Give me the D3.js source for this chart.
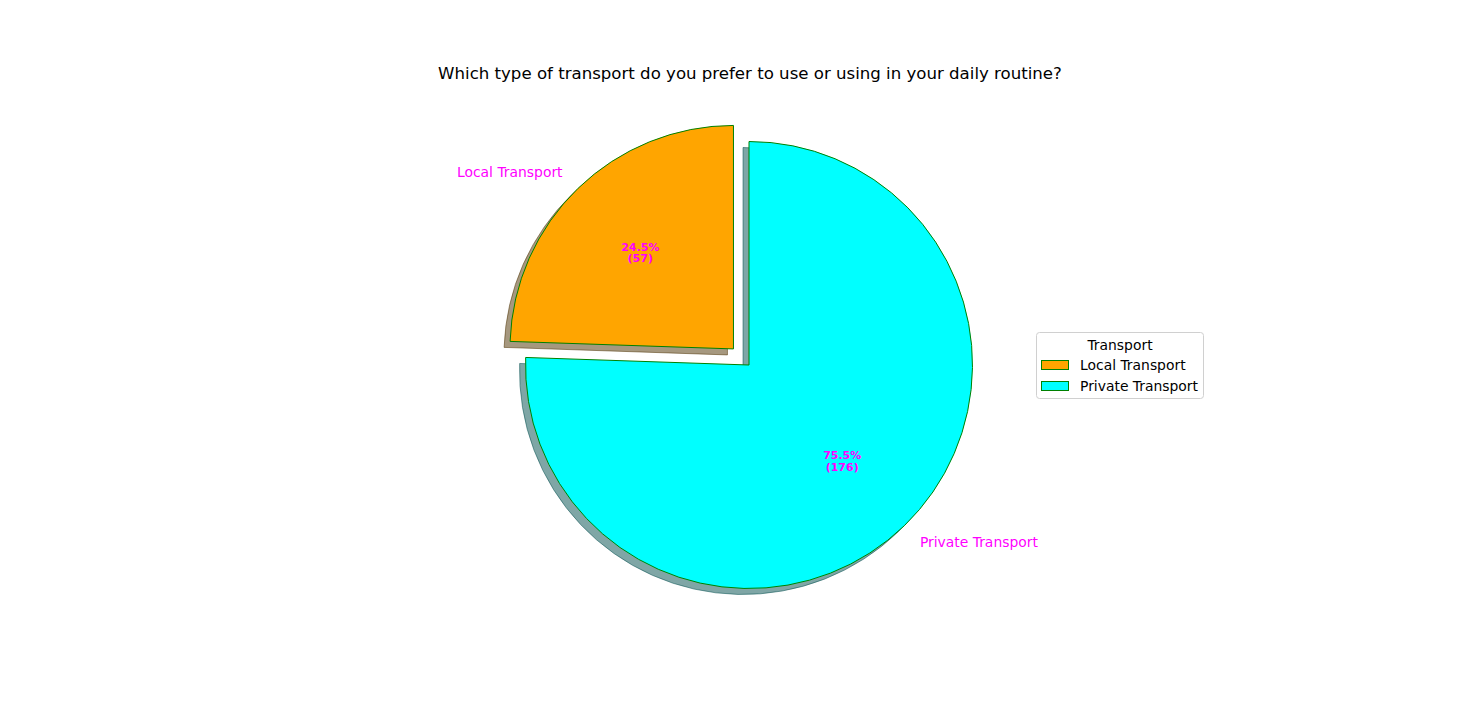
<!DOCTYPE html>
<html>
<head>
<meta charset="utf-8">
<script src="https://cdn.jsdelivr.net/npm/d3@7"></script>
<style>
  body { margin: 0; background: #fff; }
  text { font-family: "DejaVu Sans", sans-serif; }
</style>
</head>
<body>
<svg width="1462" height="724"></svg>
<script>
// data
const categories = ["Local Transport", "Private Transport"];
const counts = [57, 176];
const fills = ["#ffa500", "#00ffff"];
const explode = [0.1, 0];

const svg = d3.select("svg"),
    width = +svg.attr("width"),
    height = +svg.attr("height");

const cx = 749, cy = 365, r = 223.5;
const total = d3.sum(counts);

svg.append("text")
    .attr("x", 750)
    .attr("y", 73)
    .attr("text-anchor", "middle")
    .attr("dominant-baseline", "central")
    .style("font-size", "16.6px")
    .text("Which type of transport do you prefer to use or using in your daily routine?");

// matplotlib style: start at 12 o'clock, counterclockwise
const pie = d3.pie().sort(null).startAngle(0).endAngle(-2 * Math.PI);
const arcs = pie(counts).map((d, i) => {
    const mid = (d.startAngle + d.endAngle) / 2;
    const off = explode[i] * r;
    return Object.assign(d, {
        i: i,
        mid: mid,
        dx: Math.sin(mid) * off,
        dy: -Math.cos(mid) * off
    });
});

const arc = d3.arc().innerRadius(0).outerRadius(r);
const g = svg.append("g").attr("transform", `translate(${cx},${cy})`);

// shadows (0.3 * colour, alpha 0.5), offset down-left
const shade = i => { const c = d3.rgb(fills[i]); return d3.rgb(c.r * 0.3, c.g * 0.3, c.b * 0.3); };
g.selectAll(".shadow")
    .data(arcs)
    .join("path")
    .attr("class", "shadow")
    .attr("d", arc)
    .attr("transform", d => `translate(${d.dx - 6},${d.dy + 6})`)
    .attr("fill", d => shade(d.i))
    .attr("fill-opacity", 0.5)
    .attr("stroke", d => shade(d.i))
    .attr("stroke-opacity", 0.5);

g.selectAll(".wedge")
    .data(arcs)
    .join("path")
    .attr("class", "wedge")
    .attr("d", arc)
    .attr("transform", d => `translate(${d.dx},${d.dy})`)
    .attr("fill", d => fills[d.i])
    .attr("stroke", "green")
    .attr("stroke-width", 1);

// outer labels
g.selectAll(".lbl")
    .data(arcs)
    .join("text")
    .attr("class", "lbl")
    .attr("x", d => d.dx + Math.sin(d.mid) * r * 1.1)
    .attr("y", d => d.dy - Math.cos(d.mid) * r * 1.1)
    .attr("text-anchor", d => Math.sin(d.mid) > 0 ? "start" : "end")
    .attr("dominant-baseline", "central")
    .attr("fill", "magenta")
    .style("font-size", "13.9px")
    .text(d => categories[d.i]);

// percentage labels
const pct = g.selectAll(".pct")
    .data(arcs)
    .join("text")
    .attr("class", "pct")
    .attr("text-anchor", "middle")
    .attr("fill", "magenta")
    .style("font-size", "11px")
    .style("font-weight", "bold");

pct.append("tspan")
    .attr("x", d => d.dx + Math.sin(d.mid) * r * 0.6)
    .attr("y", d => d.dy - Math.cos(d.mid) * r * 0.6 - 2)
    .text(d => (d.data / total * 100).toFixed(1) + "%");
pct.append("tspan")
    .attr("x", d => d.dx + Math.sin(d.mid) * r * 0.6)
    .attr("y", d => d.dy - Math.cos(d.mid) * r * 0.6 + 9.5)
    .text(d => "(" + d.data + ")");

// legend
const legend = svg.append("g").attr("transform", "translate(1036,332)");
legend.append("rect")
    .attr("x", 0.5).attr("y", 0.5)
    .attr("width", 167).attr("height", 66)
    .attr("rx", 3)
    .attr("fill", "#fff")
    .attr("stroke", "#d0d0d0");
legend.append("text")
    .attr("x", 84).attr("y", 12.5)
    .attr("text-anchor", "middle")
    .attr("dominant-baseline", "central")
    .style("font-size", "13.9px")
    .text("Transport");

const item = legend.selectAll(".item")
    .data(categories)
    .join("g")
    .attr("class", "item")
    .attr("transform", (d, i) => `translate(0,${33 + i * 21})`);
item.append("rect")
    .attr("x", 5.5).attr("y", -4.5)
    .attr("width", 27).attr("height", 9)
    .attr("fill", (d, i) => fills[i])
    .attr("stroke", "green");
item.append("text")
    .attr("x", 44).attr("y", 0)
    .attr("dominant-baseline", "central")
    .style("font-size", "13.9px")
    .text(d => d);
</script>
</body>
</html>
